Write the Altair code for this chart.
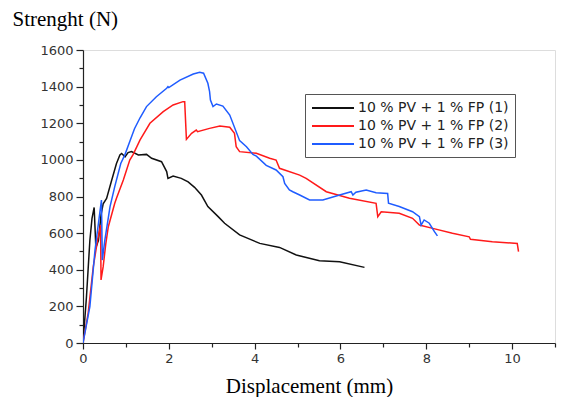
import altair as alt
import pandas as pd

series_names = ["10 % PV + 1 % FP (1)", "10 % PV + 1 % FP (2)", "10 % PV + 1 % FP (3)"]
series_colors = ["#111111", "#ff1a1a", "#1f5cff"]

x1 = [0, 0.08, 0.16, 0.21, 0.26, 0.30, 0.36, 0.42, 0.47, 0.55, 0.67, 0.78, 0.86, 0.90, 0.98,
      1.05, 1.13, 1.29, 1.48, 1.60, 1.83, 1.95, 1.98, 2.10, 2.29, 2.45, 2.60, 2.76, 2.91,
      3.15, 3.30, 3.65, 4.12, 4.58, 4.97, 5.51, 5.98, 6.56]
y1 = [0, 250, 560, 680, 740, 520, 560, 700, 760, 790, 890, 980, 1027, 1035, 1017,
      1040, 1045, 1027, 1030, 1009, 990, 936, 899, 912, 899, 880, 850, 808, 745,
      690, 654, 590, 544, 522, 481, 449, 444, 413]

x2 = [0, 0.12, 0.24, 0.34, 0.41, 0.42, 0.47, 0.53, 0.59, 0.74, 0.78, 0.94, 1.09, 1.17, 1.33,
      1.56, 1.87, 2.10, 2.33, 2.37, 2.41, 2.53, 2.64, 2.67, 2.95, 3.19, 3.42, 3.53, 3.57,
      3.65, 4.04, 4.35, 4.50, 4.58, 5.05, 5.20, 5.67, 6.21, 6.83, 6.87, 6.95, 7.37, 7.68,
      7.84, 8.15, 8.61, 9.00, 9.03, 9.54, 10.12, 10.15]
y2 = [0, 162, 417, 563, 644, 344, 417, 540, 635, 763, 790, 890, 999, 1030, 1109,
      1200, 1263, 1300, 1318, 1318, 1112, 1145, 1163, 1154, 1172, 1185, 1178, 1145, 1072,
      1045, 1036, 1009, 999, 954, 917, 899, 826, 790, 763, 690, 717, 708, 681,
      644, 626, 599, 580, 566, 553, 544, 499]

x3 = [0, 0.16, 0.28, 0.38, 0.43, 0.45, 0.51, 0.63, 0.74, 0.88, 0.98, 1.09, 1.20, 1.33, 1.48,
      1.71, 1.95, 1.98, 2.00, 2.26, 2.57, 2.72, 2.81, 2.91, 2.95, 2.97, 3.03, 3.11, 3.26,
      3.42, 3.65, 3.81, 3.96, 4.04, 4.27, 4.50, 4.66, 4.70, 4.81, 4.89, 5.05, 5.28, 5.59,
      5.98, 6.25, 6.29, 6.36, 6.60, 6.83, 7.10, 7.12, 7.37, 7.68, 7.84, 7.88, 7.95, 8.07,
      8.19, 8.26]
y3 = [0, 198, 508, 690, 781, 453, 563, 745, 854, 980, 1030, 1100, 1170, 1230, 1291,
      1345, 1391, 1400, 1395, 1436, 1469, 1478, 1473, 1418, 1373, 1327, 1291, 1305, 1294,
      1245, 1105, 1072, 1030, 1020, 970, 945, 908, 872, 836, 826, 808, 781, 781,
      808, 826, 808, 823, 836, 821, 817, 763, 745, 717, 690, 644, 672, 654,
      608, 585]

x_ticks = list(range(0, 12))
y_ticks = list(range(0, 1700, 100))

rows = []
for name, xs, ys in zip(series_names, [x1, x2, x3], [y1, y2, y3]):
    for i, (a, b) in enumerate(zip(xs, ys)):
        rows.append({"series": name, "x": a, "y": b, "order": i})
df = pd.DataFrame(rows)

tick_font = "DejaVu Sans"
title_font = "Liberation Serif"

x_axis = alt.Axis(
    values=x_ticks, format="d",
    labelExpr="datum.value % 2 === 0 ? datum.label : ''",
    tickSize={"condition": {"test": "datum.value % 2 === 0", "value": 6}, "value": 4},
    labelFlush=False, labelOverlap=False, grid=False,
    labelFont=tick_font, labelFontSize=13, labelColor="#333333", labelPadding=3,
    domainColor="#222222", tickColor="#222222", domainWidth=1.2, tickWidth=1.2,
    title="Displacement (mm)", titleFont=title_font, titleFontSize=21,
    titleFontWeight="normal", titleColor="black",
    titleAlign="center", titleBaseline="alphabetic", titleX=226, titleY=49,
)
y_axis = alt.Axis(
    values=y_ticks, format="d",
    labelExpr="datum.value % 200 === 0 ? datum.label : ''",
    tickSize={"condition": {"test": "datum.value % 200 === 0", "value": 7}, "value": 4},
    labelFlush=False, labelOverlap=False, grid=False,
    labelFont=tick_font, labelFontSize=13, labelColor="#333333", labelPadding=3,
    domainColor="#222222", tickColor="#222222", domainWidth=1.2, tickWidth=1.2,
    title="Strenght (N)", titleFont=title_font, titleFontSize=21,
    titleFontWeight="normal", titleColor="black", titleAngle=0,
    titleAlign="left", titleBaseline="alphabetic", titleX=-71, titleY=-24.5,
)

chart = alt.Chart(df).mark_line(strokeWidth=1.5, clip=True).encode(
    x=alt.X("x:Q", scale=alt.Scale(domain=[0, 11], nice=False), axis=x_axis),
    y=alt.Y("y:Q", scale=alt.Scale(domain=[0, 1600], nice=False), axis=y_axis),
    color=alt.Color(
        "series:N",
        scale=alt.Scale(domain=series_names, range=series_colors),
        legend=alt.Legend(
            orient="none", legendX=222, legendY=44, title=None,
            symbolType="M0,0H6", symbolSize=196, symbolStrokeWidth=2,
            symbolOffset=-7,
            labelFont=tick_font, labelFontSize=14, labelColor="#222222",
            strokeColor="#555555", fillColor="white", padding=6,
            rowPadding=3, labelOffset=38,
        ),
    ),
    order="order:Q",
).properties(
    width=472, height=293,
    autosize=alt.AutoSizeParams(type="none"),
    padding={"left": 75, "top": 42, "right": 6, "bottom": 54},
).configure_view(stroke=None).configure(background="white")

chart.save("out.html", embed_options={"renderer": "svg", "actions": False})
